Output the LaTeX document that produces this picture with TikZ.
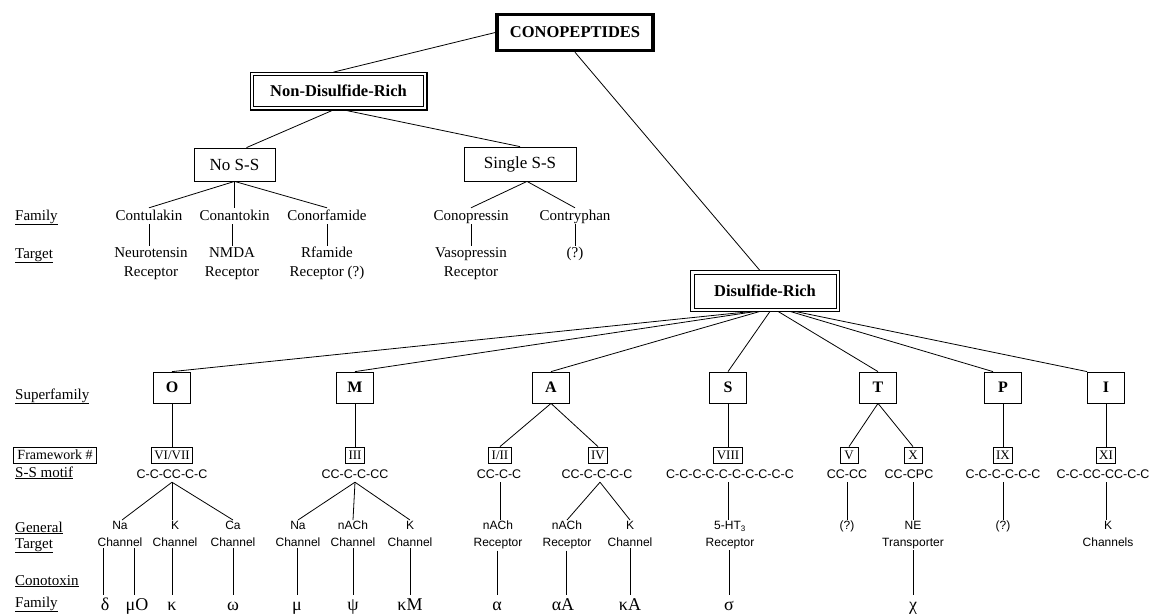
\documentclass[tikz,border=0pt]{standalone}
\usepackage{fontspec}
\setmainfont{Liberation Serif}
\setsansfont{Liberation Sans}
\begin{document}
\begin{tikzpicture}[x=1pt,y=-1pt,
  conn/.style={line width=0.8pt},
  thickbox/.style={draw, line width=3.5pt, minimum width=156pt, minimum height=36pt, inner sep=2pt, font=\bfseries\fontsize{16.5}{18}\selectfont},
  dblbox/.style={draw, line width=0.8pt, inner sep=2pt, font=\bfseries\fontsize{16.5}{18}\selectfont},
  outerframe/.style={line width=1.2pt},
  plainbox/.style={draw, line width=0.8pt, inner sep=2pt, font=\fontsize{17}{19}\selectfont},
  famtxt/.style={anchor=base, inner sep=1pt, text height=11pt, text depth=3pt, font=\fontsize{15}{17}\selectfont},
  tgtup/.style={anchor=north, inner sep=1pt, align=center, font=\fontsize{15}{19}\selectfont},
  supbox/.style={draw, line width=0.8pt, minimum width=37pt, minimum height=31pt, inner sep=0pt, font=\bfseries\fontsize{16}{18}\selectfont},
  fwbox/.style={draw, line width=0.8pt, minimum height=16pt, minimum width=18pt, inner xsep=3pt, inner ysep=0pt, font=\fontsize{13}{14}\selectfont},
  motif/.style={anchor=base, inner sep=1pt, text depth=3pt, font=\sffamily\fontsize{12.5}{14}\selectfont},
  tgtlow/.style={anchor=north, inner sep=1pt, align=center, font=\sffamily\fontsize{12}{17}\selectfont},
  greek/.style={anchor=base, inner sep=1pt, text height=14pt, font=\fontsize{18}{20}\selectfont},
  side/.style={anchor=base west, inner sep=0pt, font=\fontsize{15}{17}\selectfont}
]
\useasboundingbox[fill=white] (0,0) rectangle (1153,614);

% top level
\node[thickbox] (cono) at (575,32.5) {CONOPEPTIDES};
\node[dblbox, minimum width=170pt, minimum height=31pt] (ndr) at (338.5,91) {Non-Disulfide-Rich};
\draw[outerframe] ([shift={(-3pt,3pt)}]ndr.north west) rectangle ([shift={(3pt,-3pt)}]ndr.south east);
\node[dblbox, minimum width=142pt, minimum height=34pt] (dr) at (765,291) {Disulfide-Rich};
\draw[outerframe] ([shift={(-3pt,3pt)}]dr.north west) rectangle ([shift={(3pt,-3pt)}]dr.south east);
\node[plainbox, minimum width=81pt, minimum height=33pt] (noss) at (234.5,164.5) {No S-S};
\node[plainbox, minimum width=112pt, minimum height=34pt] (sss) at (520,164) {Single S-S};

\draw[conn] (cono.west) -- ([shift={(-5pt,3pt)}]ndr.north);
\draw[conn] (cono.south) -- ([shift={(-5pt,3pt)}]dr.north);
\draw[conn] ([shift={(-5pt,-3pt)}]ndr.south) -- ([xshift=12pt]noss.north);
\draw[conn] ([shift={(5pt,-3pt)}]ndr.south) -- (sss.north);

% side labels (upper)
\node[side] (lfam1) at (15,220) {\underline{Family}};
\node[side] (ltgt1) at (15,258) {\underline{Target}};

% non-disulfide families
\node[famtxt] (contu) at (149,220) {Contulakin};
\node[famtxt] (conan) at (234.5,220) {Conantokin};
\node[famtxt] (conor) at (327,220) {Conorfamide};
\node[famtxt] (conop) at (471,220) {Conopressin};
\node[famtxt] (contr) at (575,220) {Contryphan};

\node[tgtup] (neuro) at (151,246) {Neurotensin\\Receptor};
\node[tgtup] (nmda) at (232,246) {NMDA\\Receptor};
\node[tgtup] (rfam) at (327,246) {Rfamide\\Receptor (?)};
\node[tgtup] (vaso) at (471,246) {Vasopressin\\Receptor};
\node[tgtup] (qup) at (575,246) {(?)};

\foreach \f in {contu,conan,conor} \draw[conn] (noss.south) -- (\f.north);
\draw[conn] ([xshift=7pt]sss.south) -- (conop.north);
\draw[conn] ([xshift=7pt]sss.south) -- (contr.north);
\draw[conn] (contu.south) -- (contu.south |- neuro.north);
\draw[conn] (nmda.north |- conan.south) -- (nmda.north);
\draw[conn] (conor.south) -- (rfam.north);
\draw[conn] (conop.south) -- (vaso.north);
\draw[conn] (contr.south) -- (qup.north);

% side labels (lower)
\node[side] (lsup) at (15,399) {\underline{Superfamily}};
\node[draw, line width=0.8pt, minimum height=16pt, inner xsep=4pt, inner ysep=0pt, font=\fontsize{14}{16}\selectfont] (lfw) at (55,455) {Framework \#};
\node[side] (lmot) at (15,477) {\underline{S-S motif}};
\node[side] (lgen) at (15,532) {\underline{General}};
\node[side] (ltgt2) at (15,548) {\underline{Target}};
\node[side] (lcon) at (15,585) {\underline{Conotoxin}};
\node[side] (lfam2) at (15,607) {\underline{Family}};

% superfamilies
\node[supbox] (sO) at (172,387.5) {O};
\node[supbox] (sM) at (355,387.5) {M};
\node[supbox] (sA) at (551,387.5) {A};
\node[supbox] (sS) at (728,387.5) {S};
\node[supbox] (sT) at (878,387.5) {T};
\node[supbox] (sP) at (1003,387.5) {P};
\node[supbox] (sI) at (1106,387.5) {I};

\draw[conn] ([shift={(-13pt,-3pt)}]dr.south) -- (sO.north);
\draw[conn] ([shift={(-9pt,-3pt)}]dr.south) -- (sM.north);
\draw[conn] ([shift={(-5pt,-3pt)}]dr.south) -- (sA.north);
\draw[conn] ([shift={(5pt,-3pt)}]dr.south) -- (sS.north);
\draw[conn] ([shift={(13pt,-3pt)}]dr.south) -- (sT.north);
\draw[conn] ([shift={(25pt,-3pt)}]dr.south) -- ([xshift=-10pt]sP.north);
\draw[conn] ([shift={(30pt,-3pt)}]dr.south) -- (sI.north west);

% frameworks
\node[fwbox] (fO) at (172,455) {VI/VII};
\node[fwbox] (fM) at (355,455) {III};
\node[fwbox] (fA1) at (500,455) {I/II};
\node[fwbox] (fA2) at (598,455) {IV};
\node[fwbox] (fS) at (728,455) {VIII};
\node[fwbox] (fT1) at (849,455) {V};
\node[fwbox] (fT2) at (913,455) {X};
\node[fwbox] (fP) at (1003,455) {IX};
\node[fwbox] (fI) at (1106,455) {XI};

\draw[conn] (sO.south) -- (fO.north);
\draw[conn] (sM.south) -- (fM.north);
\draw[conn] (sA.south) -- (fA1.north);
\draw[conn] (sA.south) -- (fA2.north);
\draw[conn] (sS.south) -- (fS.north);
\draw[conn] (sT.south) -- (fT1.north);
\draw[conn] (sT.south) -- (fT2.north);
\draw[conn] (sP.south) -- (fP.north);
\draw[conn] (sI.south) -- (fI.north);

% motifs
\node[motif] (mO) at (172,478) {C-C-CC-C-C};
\node[motif] (mM) at (355,478) {CC-C-C-CC};
\node[motif] (mA1) at (499,478) {CC-C-C};
\node[motif] (mA2) at (597,478) {CC-C-C-C-C};
\node[motif] (mS) at (730,478) {C-C-C-C-C-C-C-C-C-C};
\node[motif] (mT1) at (847,478) {CC-CC};
\node[motif] (mT2) at (909,478) {CC-CPC};
\node[motif] (mP) at (1003,478) {C-C-C-C-C-C};
\node[motif] (mI) at (1103,478) {C-C-CC-CC-C-C};

% general targets
\node[tgtlow] (tO1) at (120,520) {Na\\Channel};
\node[tgtlow] (tO2) at (175,520) {K\\Channel};
\node[tgtlow] (tO3) at (233,520) {Ca\\Channel};
\node[tgtlow] (tM1) at (298,520) {Na\\Channel};
\node[tgtlow] (tM2) at (353,520) {nACh\\Channel};
\node[tgtlow] (tM3) at (410,520) {K\\Channel};
\node[tgtlow] (tA1) at (498,520) {nACh\\Receptor};
\node[tgtlow] (tA2) at (567,520) {nACh\\Receptor};
\node[tgtlow] (tA3) at (630,520) {K\\Channel};
\node[tgtlow] (tS) at (730,520) {5-HT\textsubscript{3}\\Receptor};
\node[tgtlow] (tT1) at (847,520) {(?)};
\node[tgtlow] (tT2) at (913,520) {NE\\Transporter};
\node[tgtlow] (tP) at (1003,520) {(?)};
\node[tgtlow] (tI) at (1108,520) {K\\Channels};

\draw[conn] (mO.south) -- ([xshift=2pt]tO1.north);
\draw[conn] (mO.south) -- (mO.south |- tO2.north);
\draw[conn] (mO.south) -- (tO3.north);
\draw[conn] (mM.south) -- (tM1.north);
\draw[conn] (mM.south) -- (tM2.north);
\draw[conn] (mM.south) -- (tM3.north);
\draw[conn] (fA1.south |- mA1.south) -- (fA1.south |- tA1.north);
\draw[conn] ([xshift=3pt]mA2.south) -- (tA2.north);
\draw[conn] ([xshift=3pt]mA2.south) -- (tA3.north);
\draw[conn] (fS.south |- mS.south) -- (fS.south |- tS.north);
\draw[conn] (mT1.south) -- (tT1.north);
\draw[conn] (fT2.south |- mT2.south) -- (fT2.south |- tT2.north);
\draw[conn] (fP.south |- mP.south) -- (fP.south |- tP.north);
\draw[conn] (fI.south |- mI.south) -- (fI.south |- tI.north);

% conotoxin families
\node[greek] (gd) at (105,610) {δ};
\node[greek] (gmuO) at (137,610) {μO};
\node[greek] (gk) at (172,610) {κ};
\node[greek] (gw) at (233,610) {ω};
\node[greek] (gmu) at (297,610) {μ};
\node[greek] (gpsi) at (353,610) {ψ};
\node[greek] (gkM) at (410,610) {κM};
\node[greek] (ga) at (497,610) {α};
\node[greek] (gaA) at (563,610) {αA};
\node[greek] (gkA) at (630,610) {κA};
\node[greek] (gs) at (729,610) {σ};
\node[greek] (gchi) at (913,610) {χ};

\draw[conn] ([xshift=-2pt]gd.north |- tO1.south) -- ([xshift=-2pt]gd.north);
\draw[conn] ([xshift=-3pt]gmuO.north |- tO1.south) -- ([xshift=-3pt]gmuO.north);
\draw[conn] (gk.north |- tO2.south) -- (gk.north);
\draw[conn] (gw.north |- tO3.south) -- (gw.north);
\draw[conn] (gmu.north |- tM1.south) -- (gmu.north);
\draw[conn] (gpsi.north |- tM2.south) -- (gpsi.north);
\draw[conn] (gkM.north |- tM3.south) -- (gkM.north);
\draw[conn] (ga.north |- tA1.south) -- (ga.north);
\draw[conn] ([xshift=3pt]gaA.north |- tA2.south) -- ([xshift=3pt]gaA.north);
\draw[conn] (gkA.north |- tA3.south) -- (gkA.north);
\draw[conn] (gs.north |- tS.south) -- (gs.north);
\draw[conn] (gchi.north |- tT2.south) -- (gchi.north);
\end{tikzpicture}
\end{document}
